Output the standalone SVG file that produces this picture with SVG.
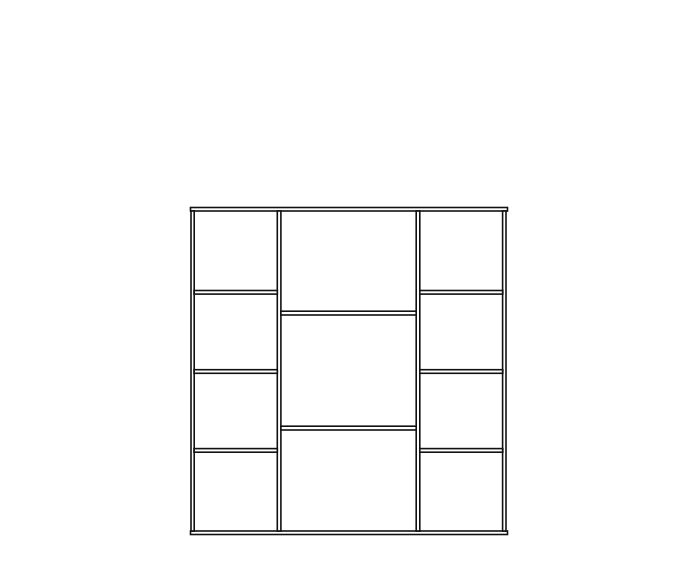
<svg xmlns="http://www.w3.org/2000/svg" width="700" height="578" viewBox="0 0 700 578">
<style>
.p{fill:#fff;stroke:#111;stroke-width:1.6}
</style>
<rect width="700" height="578" fill="#fff"/>
<g id="top"><rect class="p" x="190.5" y="207.5" width="317" height="3.5"/></g>
<g id="bottom"><rect class="p" x="190.5" y="531" width="317" height="3.5"/></g>
<g id="left-side"><rect class="p" x="191" y="211" width="3.2" height="320"/></g>
<g id="left-divider"><rect class="p" x="277.3" y="211" width="3.6" height="320"/></g>
<g id="right-divider"><rect class="p" x="416.2" y="211" width="3.6" height="320"/></g>
<g id="right-side"><rect class="p" x="502.6" y="211" width="3.4" height="320"/></g>
<g id="left-shelves">
<rect class="p" x="194.2" y="290.5" width="83.1" height="3.6"/>
<rect class="p" x="194.2" y="369.7" width="83.1" height="3.6"/>
<rect class="p" x="194.2" y="448.6" width="83.1" height="3.6"/>
</g>
<g id="center-shelves">
<rect class="p" x="280.9" y="311.2" width="135.3" height="3.8"/>
<rect class="p" x="280.9" y="426.2" width="135.3" height="3.8"/>
</g>
<g id="right-shelves">
<rect class="p" x="419.8" y="290.5" width="82.8" height="3.6"/>
<rect class="p" x="419.8" y="369.7" width="82.8" height="3.6"/>
<rect class="p" x="419.8" y="448.6" width="82.8" height="3.6"/>
</g>
</svg>
